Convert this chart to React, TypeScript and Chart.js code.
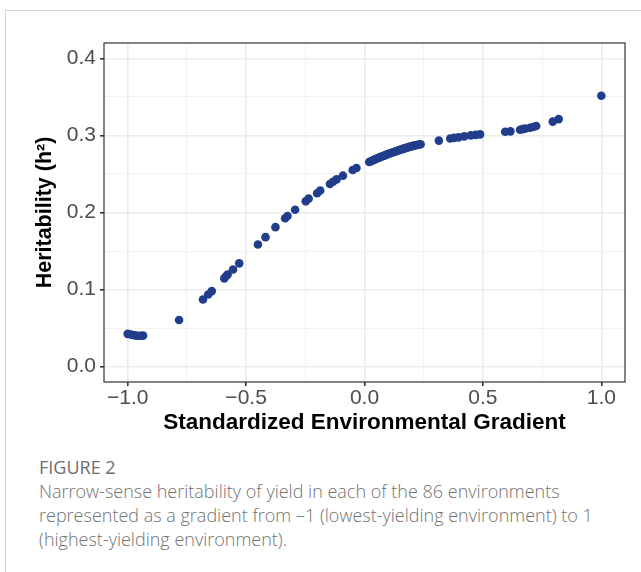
import React, { useEffect, useRef } from "react";
import { Chart, registerables } from "chart.js";

Chart.register(...registerables);

const gradientX: number[] = [
  -1.0, -0.985, -0.97, -0.958, -0.946, -0.935,
  -0.783,
  -0.682, -0.66, -0.645,
  -0.592, -0.584, -0.578, -0.555, -0.529,
  -0.45, -0.418, -0.376, -0.335, -0.325, -0.293,
  -0.248, -0.236, -0.2, -0.187, -0.146, -0.133, -0.118, -0.091, -0.05, -0.034,
  0.02, 0.027, 0.033, 0.04, 0.046, 0.052, 0.058, 0.064, 0.07, 0.076, 0.082, 0.088,
  0.094, 0.1, 0.106, 0.112, 0.118, 0.124, 0.13, 0.136, 0.142, 0.148, 0.154, 0.16,
  0.166, 0.172, 0.178, 0.184, 0.19, 0.196, 0.202, 0.208, 0.214, 0.221, 0.229, 0.237,
  0.314,
  0.362, 0.378, 0.397, 0.421, 0.449, 0.47, 0.488,
  0.594, 0.616, 0.657, 0.668, 0.678, 0.699, 0.712, 0.725,
  0.795, 0.82,
  1.0,
];

const heritability: number[] = [
  0.0425, 0.0415, 0.0405, 0.04, 0.04, 0.0402,
  0.0605,
  0.087, 0.0935, 0.098,
  0.1145, 0.1175, 0.1195, 0.126, 0.134,
  0.1585, 0.168, 0.181, 0.1925, 0.1955, 0.2035,
  0.2145, 0.218, 0.225, 0.2285, 0.237, 0.24, 0.243, 0.2478, 0.2552, 0.2578,
  0.2655, 0.2665, 0.2674, 0.2683, 0.2692, 0.27, 0.2708, 0.2716, 0.2723, 0.2729, 0.2737, 0.2745,
  0.2752, 0.2759, 0.2766, 0.2773, 0.2779, 0.2786, 0.2792, 0.2799, 0.2805, 0.2811, 0.2817, 0.2823,
  0.2829, 0.2835, 0.2841, 0.2847, 0.2852, 0.2857, 0.2862, 0.2867, 0.2871, 0.2876, 0.2881, 0.2886,
  0.2933,
  0.296, 0.2968, 0.2975, 0.2988, 0.3001, 0.3008, 0.3014,
  0.3048, 0.3053, 0.3075, 0.3082, 0.3088, 0.31, 0.311, 0.3123,
  0.318, 0.3212,
  0.3515,
];

const xTickValues: number[] = [-1, -0.75, -0.5, -0.25, 0, 0.25, 0.5, 0.75, 1];
const yTickValues: number[] = [0, 0.05, 0.1, 0.15, 0.2, 0.25, 0.3, 0.35, 0.4];

const FONT = "'Liberation Sans', Arial, Helvetica, sans-serif";

const isMajorX = (v: number) => Math.abs(v * 2 - Math.round(v * 2)) < 1e-6;
const isMajorY = (v: number) => Math.abs(v * 10 - Math.round(v * 10)) < 1e-6;
const fmt = (v: number) => {
  const s = Math.abs(v).toFixed(1);
  return v < -1e-9 ? "\u2212" + s : s;
};

const panelBorder = {
  id: "panelBorder",
  afterDatasetsDraw(chart: any) {
    const { ctx, chartArea } = chart;
    ctx.save();
    ctx.strokeStyle = "#333333";
    ctx.lineWidth = 1.2;
    ctx.strokeRect(chartArea.left, chartArea.top, chartArea.right - chartArea.left, chartArea.bottom - chartArea.top);
    ctx.restore();
  },
};

export default function App() {
  const canvasRef = useRef<HTMLCanvasElement | null>(null);

  useEffect(() => {
    if (!canvasRef.current) return;
    const points = gradientX.map((x, i) => ({ x, y: heritability[i] }));
    const chart = new Chart(canvasRef.current, {
      type: "scatter",
      data: {
        datasets: [
          {
            data: points,
            backgroundColor: "#213d8c",
            borderColor: "#213d8c",
            borderWidth: 0,
            pointRadius: 4.3,
          },
        ],
      },
      options: {
        responsive: false,
        animation: false,
        devicePixelRatio: 1,
        layout: { padding: { top: 43, right: 16, left: 0, bottom: 0 } },
        plugins: { legend: { display: false }, tooltip: { enabled: false } },
        scales: {
          x: {
            type: "linear",
            min: -1.1,
            max: 1.1,
            afterBuildTicks: (s: any) => {
              s.ticks = xTickValues.map((v) => ({ value: v }));
            },
            afterFit: (s: any) => {
              s.height = 58;
            },
            grid: {
              color: (c: any) => (isMajorX(c.tick.value) ? "#ebebeb" : "#f3f3f3"),
              lineWidth: (c: any) => (isMajorX(c.tick.value) ? 1.6 : 1),
              tickColor: (c: any) => (isMajorX(c.tick.value) ? "#333333" : "rgba(0,0,0,0)"),
              tickLength: 4,
              drawTicks: true,
            },
            border: { display: false },
            ticks: {
              autoSkip: false,
              maxRotation: 0,
              padding: 0,
              color: "#4d4d4d",
              font: { family: FONT, size: 21 },
              callback: (v: any) => (isMajorX(Number(v)) ? fmt(Number(v)) : ""),
            },
            title: {
              display: true,
              text: "Standardized Environmental Gradient",
              color: "#000000",
              font: { family: FONT, size: 22.5, weight: "bold" },
              padding: { top: 0, bottom: 4 },
            },
          },
          y: {
            type: "linear",
            min: -0.02,
            max: 0.42,
            afterBuildTicks: (s: any) => {
              s.ticks = yTickValues.map((v) => ({ value: v }));
            },
            afterFit: (s: any) => {
              s.width = 104;
            },
            grid: {
              color: (c: any) => (isMajorY(c.tick.value) ? "#ebebeb" : "#f3f3f3"),
              lineWidth: (c: any) => (isMajorY(c.tick.value) ? 1.6 : 1),
              tickColor: (c: any) => (isMajorY(c.tick.value) ? "#333333" : "rgba(0,0,0,0)"),
              tickLength: 4,
              drawTicks: true,
            },
            border: { display: false },
            ticks: {
              autoSkip: false,
              padding: 4,
              color: "#4d4d4d",
              font: { family: FONT, size: 21 },
              callback: (v: any) => (isMajorY(Number(v)) ? fmt(Number(v)) : ""),
            },
            title: {
              display: true,
              text: "Heritability (h\u00B2)",
              color: "#000000",
              font: { family: FONT, size: 21.5, weight: "bold" },
              padding: { top: 32, bottom: 0 },
            },
          },
        },
      },
      plugins: [panelBorder],
    });
    return () => chart.destroy();
  }, []);

  return (
    <div style={{ position: "absolute", left: 0, top: 0, width: 641, height: 572, background: "#fff", overflow: "hidden" }}>
      <div
        style={{
          position: "absolute",
          left: 5,
          top: 10,
          width: 640,
          height: 570,
          borderTop: "1px solid #d4d4d4",
          borderLeft: "1px solid #d4d4d4",
        }}
      />
      <canvas ref={canvasRef} width={641} height={440} style={{ position: "absolute", left: 0, top: 0, width: 641, height: 440 }} />
      <div
        style={{
          position: "absolute",
          left: 39,
          top: 455,
          width: 602,
          fontFamily: "'Open Sans', 'Noto Sans', sans-serif",
          color: "#737373",
        }}
      >
        <div style={{ fontSize: 18, lineHeight: "24px", fontWeight: 500, color: "#6e6e6e" }}>FIGURE 2</div>
        <div style={{ fontSize: 18, lineHeight: "24px", fontWeight: 300, whiteSpace: "nowrap" }}>
          Narrow-sense heritability of yield in each of the 86 environments
          <br />
          represented as a gradient from –1 (lowest-yielding environment) to 1
          <br />
          (highest-yielding environment).
        </div>
      </div>
    </div>
  );
}
